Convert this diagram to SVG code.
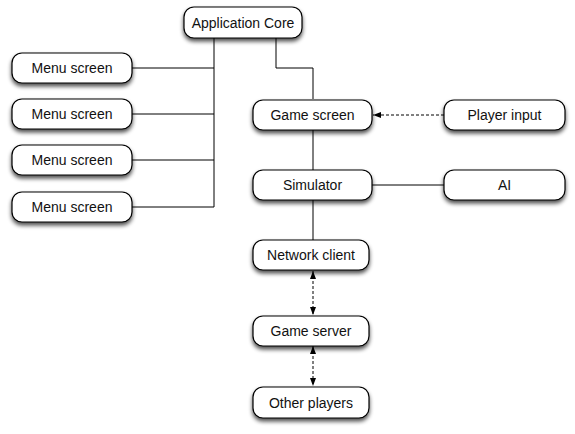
<svg xmlns="http://www.w3.org/2000/svg" width="575" height="434" viewBox="0 0 575 434">
<style>
.box{fill:#fff;stroke:#000;stroke-width:1.2;filter:url(#sh)}
.lbl{font-family:"Liberation Sans",Arial,sans-serif;font-size:14px;fill:#111;text-anchor:middle;dominant-baseline:central}
.ln{fill:none;stroke:#000;stroke-width:1}
.dash{fill:none;stroke:#000;stroke-width:1;stroke-dasharray:3,2}
</style>
<defs>
<filter id="sh" x="-20%" y="-30%" width="140%" height="180%">
<feGaussianBlur in="SourceAlpha" stdDeviation="2"/>
<feOffset dx="0" dy="3" result="b"/>
<feComponentTransfer><feFuncA type="linear" slope="0.7"/></feComponentTransfer>
<feMerge><feMergeNode/><feMergeNode in="SourceGraphic"/></feMerge>
</filter>
<marker id="ah" viewBox="0 0 8 8" refX="8" refY="4" markerWidth="8" markerHeight="8" orient="auto-start-reverse" markerUnits="userSpaceOnUse">
<path d="M0,1 L8,4 L0,7 Z" fill="#000"/>
</marker>
</defs>
<g id="connectors">
<path class="ln" d="M214,38 V207 M132,68 H214 M132,114 H214 M132,160 H214 M132,207 H214"/>
<path class="ln" d="M276,38 V68 H313 V99"/>
<path class="ln" d="M313,129 V170"/>
<path class="ln" d="M372,185 H444"/>
<path class="ln" d="M313,200 V240"/>
<path class="dash" d="M444,115 H373" marker-end="url(#ah)"/>
<path class="dash" d="M313,271 V315" marker-start="url(#ah)" marker-end="url(#ah)"/>
<path class="dash" d="M313,346 V386" marker-start="url(#ah)" marker-end="url(#ah)"/>
</g>
<g id="app-core"><rect class="box" x="184" y="7" width="118" height="31" rx="10"/><text class="lbl" x="243" y="22.5">Application Core</text></g>
<g id="menu1"><rect class="box" x="12" y="53" width="120" height="30" rx="10"/><text class="lbl" x="72" y="68">Menu screen</text></g>
<g id="menu2"><rect class="box" x="12" y="99" width="120" height="30" rx="10"/><text class="lbl" x="72" y="114">Menu screen</text></g>
<g id="menu3"><rect class="box" x="12" y="145" width="120" height="30" rx="10"/><text class="lbl" x="72" y="160">Menu screen</text></g>
<g id="menu4"><rect class="box" x="12" y="192" width="120" height="30" rx="10"/><text class="lbl" x="72" y="207">Menu screen</text></g>
<g id="game-screen"><rect class="box" x="253" y="100" width="119" height="30" rx="10"/><text class="lbl" x="312.5" y="115">Game screen</text></g>
<g id="player-input"><rect class="box" x="444" y="100" width="121" height="30" rx="10"/><text class="lbl" x="504.5" y="115">Player input</text></g>
<g id="simulator"><rect class="box" x="253" y="170" width="119" height="30" rx="10"/><text class="lbl" x="312.5" y="185">Simulator</text></g>
<g id="ai"><rect class="box" x="444" y="170" width="121" height="30" rx="10"/><text class="lbl" x="504.5" y="185">AI</text></g>
<g id="network-client"><rect class="box" x="253" y="240" width="116" height="30" rx="10"/><text class="lbl" x="311" y="255">Network client</text></g>
<g id="game-server"><rect class="box" x="253" y="316" width="116" height="30" rx="10"/><text class="lbl" x="311" y="331">Game server</text></g>
<g id="other-players"><rect class="box" x="253" y="387" width="116" height="31" rx="10"/><text class="lbl" x="311" y="402.5">Other players</text></g>
</svg>
